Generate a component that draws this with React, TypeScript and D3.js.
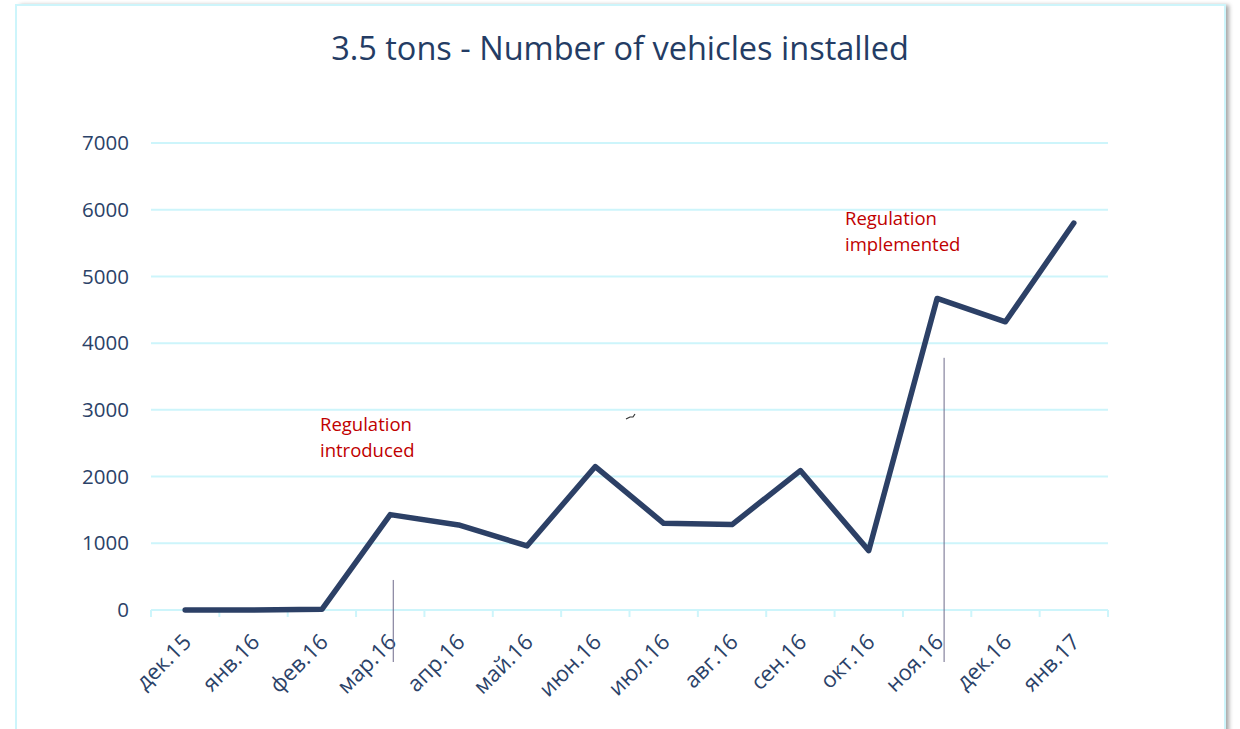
import { useEffect, useRef } from "react";
import * as d3 from "d3";

const MONTHS = [
  "дек.15", "янв.16", "фев.16", "мар.16", "апр.16", "май.16", "июн.16",
  "июл.16", "авг.16", "сен.16", "окт.16", "ноя.16", "дек.16", "янв.17",
];
const VEHICLES = [0, 0, 10, 1430, 1275, 960, 2150, 1300, 1280, 2090, 890, 4670, 4320, 5800];
const Y_TICKS = [0, 1000, 2000, 3000, 4000, 5000, 6000, 7000];

const ANNOTATIONS = [
  { month: "мар.16", shift: 3, top: 450, lines: ["Regulation", "introduced"], textX: 320, textValue: 2680 },
  { month: "ноя.16", shift: 7, top: 3780, lines: ["Regulation", "implemented"], textX: 845, textValue: 5770 },
];

const FONT = "'Open Sans', 'Noto Sans', sans-serif";
const TEXT_COLOR = "#2b4268";
const GRID_COLOR = "#cdf5fb";

export default function App() {
  const svgRef = useRef<SVGSVGElement | null>(null);

  useEffect(() => {
    const svgElement = svgRef.current;
    if (!svgElement) return;

    const width = 1240;
    const height = 729;
    const margin = { top: 143, right: 132, bottom: 119, left: 151 };
    const chartWidth = width - margin.left - margin.right;
    const chartHeight = height - margin.top - margin.bottom;

    const x = d3.scaleBand().domain(MONTHS).range([0, chartWidth]).padding(0);
    const y = d3.scaleLinear().domain([0, 7000]).range([chartHeight, 0]);

    const svg = d3.select(svgElement);
    svg.selectAll("*").remove();

    const defs = svg.append("defs");
    const shadow = defs.append("filter").attr("id", "frame-shadow").attr("x", "-5%").attr("y", "-5%").attr("width", "110%").attr("height", "110%");
    shadow.append("feDropShadow").attr("dx", 4).attr("dy", 0).attr("stdDeviation", 2).attr("flood-color", "#000").attr("flood-opacity", 0.35);

    // chart frame
    svg
      .append("rect")
      .attr("x", 16)
      .attr("y", 5)
      .attr("width", 1209)
      .attr("height", 760)
      .attr("fill", "#fff")
      .attr("filter", "url(#frame-shadow)");
    svg
      .append("rect")
      .attr("x", 16)
      .attr("y", 5)
      .attr("width", 1209)
      .attr("height", 760)
      .attr("fill", "none")
      .attr("stroke", GRID_COLOR)
      .attr("stroke-width", 2);

    svg
      .append("text")
      .attr("x", 620)
      .attr("y", 60)
      .attr("text-anchor", "middle")
      .attr("font-family", FONT)
      .attr("font-size", 32.5)
      .attr("fill", "#243c64")
      .text("3.5 tons - Number of vehicles installed");

    const chart = svg.append("g").attr("transform", `translate(${margin.left}, ${margin.top})`);

    // gridlines
    chart
      .append("g")
      .selectAll("line")
      .data(Y_TICKS.filter((t) => t > 0))
      .join("line")
      .attr("x1", 0)
      .attr("x2", chartWidth)
      .attr("y1", (d) => y(d))
      .attr("y2", (d) => y(d))
      .attr("stroke", GRID_COLOR)
      .attr("stroke-width", 2);

    // y labels
    chart
      .append("g")
      .selectAll("text")
      .data(Y_TICKS)
      .join("text")
      .attr("x", -22)
      .attr("y", (d) => y(d))
      .attr("dy", "0.35em")
      .attr("text-anchor", "end")
      .attr("font-family", FONT)
      .attr("font-size", 20.5)
      .attr("fill", TEXT_COLOR)
      .text((d) => `${d}`);

    // x axis
    const xAxis = chart.append("g").attr("transform", `translate(0, ${chartHeight})`);
    xAxis
      .append("line")
      .attr("x1", 0)
      .attr("x2", chartWidth)
      .attr("stroke", GRID_COLOR)
      .attr("stroke-width", 2);
    xAxis
      .selectAll("line.tick")
      .data(d3.range(MONTHS.length + 1))
      .join("line")
      .attr("class", "tick")
      .attr("x1", (i) => i * x.step())
      .attr("x2", (i) => i * x.step())
      .attr("y1", 0)
      .attr("y2", 7)
      .attr("stroke", GRID_COLOR)
      .attr("stroke-width", 2);
    xAxis
      .selectAll("text")
      .data(MONTHS)
      .join("text")
      .attr("transform", (m) => `translate(${(x(m) ?? 0) + x.bandwidth() / 2 + 2}, 28) rotate(-45)`)
      .attr("text-anchor", "end")
      .attr("dy", "0.35em")
      .attr("font-family", FONT)
      .attr("font-size", 22)
      .attr("fill", TEXT_COLOR)
      .text((m) => m);

    // annotations
    ANNOTATIONS.forEach((a) => {
      const ax = (x(a.month) ?? 0) + x.bandwidth() / 2 + a.shift;
      chart
        .append("line")
        .attr("x1", ax)
        .attr("x2", ax)
        .attr("y1", y(a.top))
        .attr("y2", chartHeight + 52)
        .attr("stroke", "#6e6a8a")
        .attr("stroke-width", 1);
      const text = chart
        .append("text")
        .attr("x", a.textX - margin.left)
        .attr("y", y(a.textValue))
        .attr("font-family", FONT)
        .attr("font-size", 18.5)
        .attr("fill", "#c00000");
      a.lines.forEach((l, i) => {
        text.append("tspan").attr("x", a.textX - margin.left).attr("dy", i === 0 ? 0 : 26).text(l);
      });
    });

    // data line
    const line = d3
      .line<number>()
      .x((_, i) => (x(MONTHS[i]) ?? 0) + x.bandwidth() / 2)
      .y((d) => y(d));

    chart
      .append("path")
      .datum(VEHICLES)
      .attr("d", line)
      .attr("fill", "none")
      .attr("stroke", "#2c4066")
      .attr("stroke-width", 5.5)
      .attr("stroke-linejoin", "round")
      .attr("stroke-linecap", "round");

    // stray squiggle in the original
    svg
      .append("path")
      .attr("d", "M626,419 L630,417 L633,417 L635,414")
      .attr("fill", "none")
      .attr("stroke", "#333")
      .attr("stroke-width", 1.2);
  }, []);

  return (
    <svg
      ref={svgRef}
      width={1240}
      height={729}
      style={{ position: "absolute", left: 0, top: 0, background: "#fff" }}
    />
  );
}
